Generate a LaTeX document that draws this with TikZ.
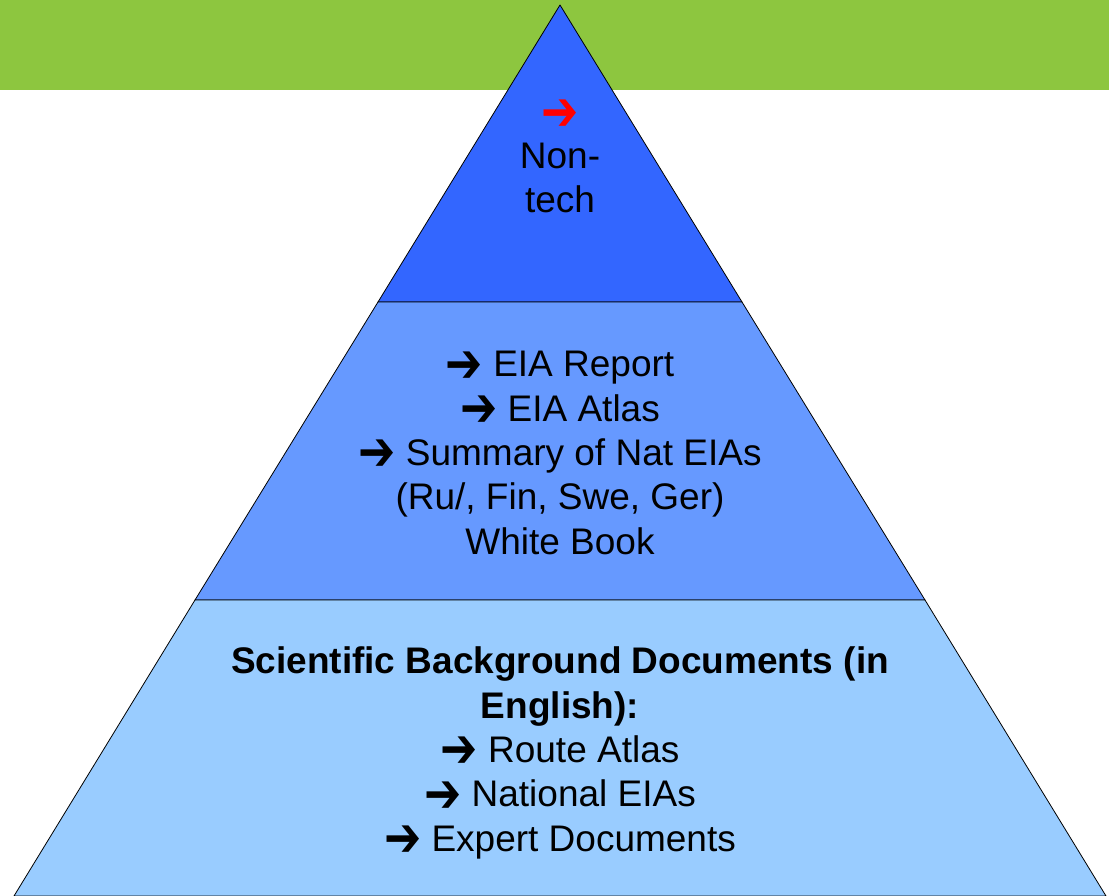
\documentclass[tikz,border=0pt]{standalone}
\usepackage{fontspec}
\setmainfont{Liberation Sans}
\newfontfamily\arrowfont{DejaVu Sans}
\usepackage{tikz}
\definecolor{bandgreen}{RGB}{141,198,63}
\definecolor{topblue}{RGB}{51,102,255}
\definecolor{midblue}{RGB}{102,153,255}
\definecolor{lowblue}{RGB}{153,204,255}
\newcommand{\arr}{\raisebox{-0.14em}[0.55em][0pt]{\scalebox{1.2}[1.5]{\arrowfont\char"2794}}}
\tikzset{
	tier/.style={draw=black,line width=0.8pt,line join=round},
	tier text/.style={align=center,inner sep=0pt,font=\fontsize{37}{44.3}\selectfont}
}

\begin{document}
\begin{tikzpicture}[x=1pt,y=-1pt]
	\useasboundingbox (0,0) rectangle (1109,896);
	\fill[bandgreen] (0,0) rectangle (1109,90);
	% corners of the pyramid tiers
	\coordinate (apex) at (560,5);
	\coordinate (l1) at (378,302);
	\coordinate (r1) at (742,302);
	\coordinate (l2) at (195,600);
	\coordinate (r2) at (925,600);
	\coordinate (l3) at (14,896);
	\coordinate (r3) at (1106,896);
	\filldraw[tier,fill=topblue] (apex) -- (r1) -- (l1) -- cycle;
	\filldraw[tier,fill=midblue] (l1) -- (r1) -- (r2) -- (l2) -- cycle;
	\filldraw[tier,fill=lowblue] (l2) -- (r2) -- (r3) -- (l3) -- cycle;
	\node[tier text,font=\fontsize{37}{43.5}\selectfont] (top) at (560,159)
		{\textcolor{red}{\arr}\\Non-\\tech};
	\node[tier text] (middle) at (560,453)
		{\arr\ EIA Report\\\arr\ EIA Atlas\\\arr\ Summary of Nat EIAs\\(Ru/, Fin, Swe, Ger)\\White Book};
	\node[tier text] (bottom) at (560,753)
		{\textbf{Scientific Background Documents (in}\\\textbf{English):}\\\arr\ Route Atlas\\\arr\ National EIAs\\\arr\ Expert Documents};
\end{tikzpicture}
\end{document}
